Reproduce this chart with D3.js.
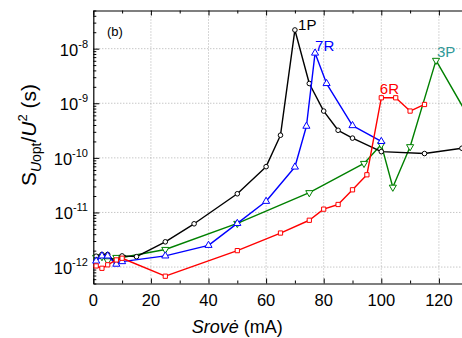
<!DOCTYPE html>
<html><head><meta charset="utf-8">
<script src="https://cdn.jsdelivr.net/npm/d3@7"></script>
<style>
html,body{margin:0;padding:0;background:#fff;}
svg{display:block;font-family:"Liberation Sans",Arial,sans-serif;}
</style></head>
<body>
<svg id="chart" width="462" height="338"></svg>
<script>
// ---- data ----
const xMajorTicks = [0, 20, 40, 60, 80, 100, 120];
const xMinorTicks = [10, 30, 50, 70, 90, 110, 130];
const yMajorTicks = [1e-12, 1e-11, 1e-10, 1e-9, 1e-8];
const yTickExponents = ["-12", "-11", "-10", "-9", "-8"];

const s1P_x = [1, 3, 5, 8, 10, 15, 25, 35, 50, 60, 65, 70, 75, 80, 85, 90, 100, 115, 128];
const s1P_y = [1.58e-12, 1.7e-12, 1.7e-12, 1.17e-12, 1.6e-12, 1.55e-12, 2.9e-12, 6.2e-12, 2.2e-11, 6.9e-11, 2.6e-10, 2.2e-8, 2.3e-9, 7.2e-10, 3.2e-10, 2.3e-10, 1.3e-10, 1.2e-10, 1.5e-10];

const s7R_x = [1, 3, 5, 8, 10, 25, 40, 50, 60, 70, 74, 77, 81, 90, 100];
const s7R_y = [1.29e-12, 1.6e-12, 1.6e-12, 1.13e-12, 1.26e-12, 1.6e-12, 2.5e-12, 6.3e-12, 1.6e-11, 6.8e-11, 3.8e-10, 8.3e-9, 2.3e-9, 3.9e-10, 2.0e-10];

const s3P_x = [1, 3, 5, 8, 10, 25, 50, 75, 94, 100, 104, 110, 119, 130];
const s3P_y = [1.5e-12, 1.55e-12, 1.3e-12, 1.5e-12, 1.5e-12, 2.1e-12, 6.3e-12, 2.3e-11, 7.9e-11, 1.75e-10, 2.9e-11, 1.6e-10, 6.1e-9, 6e-10];

const s6R_x = [1, 3, 5, 8, 10, 25, 50, 65, 75, 80, 85, 90, 95, 100, 105, 110, 115];
const s6R_y = [1.05e-12, 0.95e-12, 1.1e-12, 1.35e-12, 1.45e-12, 6.8e-13, 2.0e-12, 4.2e-12, 7.2e-12, 1.15e-11, 1.4e-11, 2.6e-11, 4.9e-11, 1.26e-9, 1.26e-9, 7.2e-10, 9.5e-10];

const seriesNames = ["1P", "7R", "3P", "6R"];
const labelX = [71.1, 77, 119.3, 99.5];
const labelY = [2.2e-8, 9.2e-9, 6.9e-9, 1.45e-9];

// ---- styling ----
const colors = {"1P": "#000000", "7R": "#0000ff", "3P": "#008000", "6R": "#ff0000"};
const labelColors = {"1P": "#000000", "7R": "#0000ff", "3P": "#2f9999", "6R": "#ff0000"};
const markers = {"1P": "circle", "7R": "up", "3P": "down", "6R": "square"};

const series = [
  {name: "1P", xs: s1P_x, ys: s1P_y},
  {name: "7R", xs: s7R_x, ys: s7R_y},
  {name: "3P", xs: s3P_x, ys: s3P_y},
  {name: "6R", xs: s6R_x, ys: s6R_y}
];
// draw order: black, blue, green, red (red on top in reference near 100)
const drawOrder = ["3P", "1P", "7R", "6R"];

const svg = d3.select("#chart");
const L = 93.3, T = 10.5, B = 283.5;
const x = d3.scaleLinear().domain([0, 130]).range([L, L + 2.88 * 130]);
const y = d3.scaleLog().domain([5e-13, 5e-8]).range([B, T]);
const R = x(130);

// grid
const grid = svg.append("g");
grid.selectAll("line.gx").data(xMajorTicks.filter(d => d > 0)).join("line")
  .attr("x1", d => x(d)).attr("x2", d => x(d)).attr("y1", T).attr("y2", B)
  .attr("stroke", "#9a9a9a").attr("stroke-width", 0.8).attr("stroke-dasharray", "1,2");
grid.selectAll("line.gy").data(yMajorTicks).join("line")
  .attr("x1", L).attr("x2", R).attr("y1", d => y(d)).attr("y2", d => y(d))
  .attr("stroke", "#9a9a9a").attr("stroke-width", 0.8).attr("stroke-dasharray", "1,2");

// axes
const axStyle = g => { g.selectAll("path.domain").attr("stroke", "#000").attr("stroke-width", 1.2);
  g.selectAll(".tick line").attr("stroke", "#000").attr("stroke-width", 1); };

svg.append("g").attr("transform", `translate(0,${B})`)
  .call(d3.axisBottom(x).tickValues(xMajorTicks).tickSize(-5).tickSizeOuter(0).tickFormat(""))
  .call(axStyle);
svg.append("g").attr("transform", `translate(0,${B})`)
  .call(d3.axisBottom(x).tickValues(xMinorTicks).tickSize(-3).tickSizeOuter(0).tickFormat(""))
  .call(axStyle).call(g => g.select("path.domain").remove());
svg.append("g").attr("transform", `translate(0,${T})`)
  .call(d3.axisTop(x).tickValues(xMajorTicks).tickSize(-5).tickSizeOuter(0).tickFormat(""))
  .call(axStyle);
svg.append("g").attr("transform", `translate(0,${T})`)
  .call(d3.axisTop(x).tickValues(xMinorTicks).tickSize(-3).tickSizeOuter(0).tickFormat(""))
  .call(axStyle).call(g => g.select("path.domain").remove());

const yMinor = [];
for (let e = -13; e <= -8; e++) for (let m = 2; m <= 9; m++) {
  const v = m * Math.pow(10, e);
  if (v >= 5e-13 && v <= 5e-8) yMinor.push(v);
}
svg.append("g").attr("transform", `translate(${L},0)`)
  .call(d3.axisLeft(y).tickValues(yMajorTicks).tickSize(-6).tickSizeOuter(0).tickFormat(""))
  .call(axStyle);
svg.append("g").attr("transform", `translate(${L},0)`)
  .call(d3.axisLeft(y).tickValues(yMinor).tickSize(-3).tickSizeOuter(0).tickFormat(""))
  .call(axStyle).call(g => g.select("path.domain").remove());

// x tick labels
svg.append("g").selectAll("text").data(xMajorTicks).join("text")
  .attr("x", d => x(d)).attr("y", B + 22).attr("text-anchor", "middle")
  .attr("font-size", 16.5).attr("fill", "#000").text(d => d);

// y tick labels
const yl = svg.append("g").selectAll("text").data(yMajorTicks).join("text")
  .attr("x", 88).attr("y", d => y(d) + 7).attr("text-anchor", "end")
  .attr("font-size", 16.5).attr("fill", "#000");
yl.append("tspan").text("10");
yl.append("tspan").attr("font-size", 11).attr("dy", -8).text((d, i) => yTickExponents[i]);

// axis titles
const xt = svg.append("text").attr("x", x(50)).attr("y", 333).attr("text-anchor", "middle")
  .attr("font-size", 18).attr("fill", "#000");
xt.append("tspan").attr("font-style", "italic").text("Srovė");
xt.append("tspan").text(" (mA)");

const yt = svg.append("text").attr("transform", "translate(36,135) rotate(-90)")
  .attr("text-anchor", "middle").attr("font-size", 21).attr("fill", "#000");
yt.append("tspan").text("S");
yt.append("tspan").attr("font-size", 14).attr("dy", 5).attr("font-style", "italic").text("U");
yt.append("tspan").attr("font-size", 14).text("opt");
yt.append("tspan").attr("dy", -5).text("/");
yt.append("tspan").attr("font-style", "italic").text("U");
yt.append("tspan").attr("font-size", 13).attr("dy", -9).text("2");
yt.append("tspan").attr("dy", 9).text(" (s)");

// panel label
svg.append("text").attr("x", 107).attr("y", 36).attr("font-size", 13).attr("fill", "#000").text("(b)");

// series
const line = d3.line().x(d => x(d[0])).y(d => y(d[1]));
const byName = Object.fromEntries(series.map(s => [s.name, s]));
drawOrder.forEach(name => {
  const s = byName[name];
  const pts = s.xs.map((v, i) => [v, s.ys[i]]);
  const g = svg.append("g");
  g.append("path").datum(pts).attr("d", line).attr("fill", "none")
    .attr("stroke", colors[name]).attr("stroke-width", 1.4).attr("stroke-linejoin", "round");
  const mk = markers[name];
  if (mk === "circle") {
    g.selectAll("circle").data(pts).join("circle")
      .attr("cx", d => x(d[0])).attr("cy", d => y(d[1])).attr("r", 2.3)
      .attr("fill", "#fff").attr("stroke", colors[name]).attr("stroke-width", 1);
  } else {
    const sym = mk === "square" ? d3.symbolSquare : d3.symbolTriangle;
    const size = mk === "square" ? 18 : 22;
    const rot = mk === "down" ? 180 : 0;
    g.selectAll("path.m").data(pts).join("path").attr("class", "m")
      .attr("d", d3.symbol().type(sym).size(size))
      .attr("transform", d => `translate(${x(d[0])},${y(d[1])}) rotate(${rot})`)
      .attr("fill", "#fff").attr("stroke", colors[name]).attr("stroke-width", 1);
  }
});

// series labels
svg.append("g").selectAll("text").data(seriesNames).join("text")
  .attr("x", (d, i) => x(labelX[i])).attr("y", (d, i) => y(labelY[i]))
  .attr("font-size", 15).attr("fill", d => labelColors[d]).text(d => d);
</script>
</body></html>
